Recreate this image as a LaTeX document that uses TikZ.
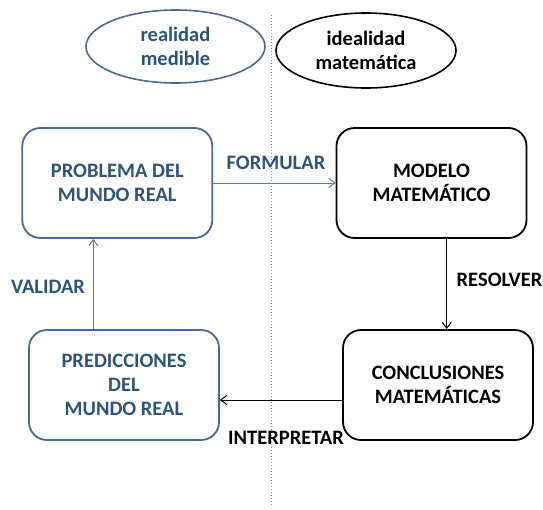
\documentclass[tikz,border=0pt]{standalone}
\usepackage{fontspec}
\setmainfont{Carlito}
\usetikzlibrary{shapes.geometric,arrows.meta}
\definecolor{txtblue}{RGB}{46,84,125}
\definecolor{boxblue}{RGB}{70,108,150}
\definecolor{arrblue}{RGB}{85,128,172}
\definecolor{dotcol}{RGB}{120,142,168}
\begin{document}
\begin{tikzpicture}[x=1pt,y=-1pt,
  txt/.style={font=\fontsize{20.5}{24}\selectfont\bfseries,align=center},
  oval/.style={ellipse,draw,line width=1.6pt,txt,inner sep=0pt},
  realbox/.style={rectangle,rounded corners=18pt,draw=boxblue,line width=1.8pt,text=txtblue,txt,minimum width=190pt,minimum height=110pt,inner sep=0pt},
  mathbox/.style={rectangle,rounded corners=18pt,draw=black,line width=1.8pt,text=black,txt,minimum width=190pt,minimum height=110pt,inner sep=0pt},
  barrow/.style={draw=arrblue,line width=1pt,-{Straight Barb[length=6pt,width=9pt]}},
  karrow/.style={draw=black,line width=1pt,-{Straight Barb[length=6pt,width=9pt]}},
  lbl/.style={txt,inner sep=0pt}]
\useasboundingbox (0,0) rectangle (543,509);
\coordinate (dtop) at (271,15);
\coordinate (dbot) at (271,505);
\draw[dotcol,dotted,line width=1pt] (dtop) -- (dbot);

\node[oval,draw=boxblue,text=txtblue,minimum width=179pt,minimum height=73pt] (real) at (175.5,46.5) {realidad\\medible};
\node[oval,draw=black,text=black,minimum width=180pt,minimum height=75pt] (ideal) at (366,50.5) {idealidad\\matemática};

\node[realbox] (prob) at (117.3,183) {PROBLEMA DEL\\MUNDO REAL};
\node[mathbox] (mod) at (431.5,183) {MODELO\\MATEMÁTICO};
\node[mathbox] (conc) at (438,385) {CONCLUSIONES\\MATEMÁTICAS};
\node[realbox] (pred) at (124,385) {PREDICCIONES\\DEL\\MUNDO REAL};

\coordinate (rx) at (446.7,0);
\coordinate (iy) at (0,400);
\coordinate (vx) at (93.3,0);

\draw[barrow] (prob.east) -- (mod.west);
\draw[karrow] (mod.south -| rx) -- (conc.north -| rx);
\draw[karrow] (conc.west |- iy) -- (pred.east |- iy);
\draw[barrow] (pred.north -| vx) -- (prob.south -| vx);

\node[lbl,text=txtblue] (lf) at (276,163) {FORMULAR};
\node[lbl,text=black] (lr) at (499.5,280) {RESOLVER};
\node[lbl,text=black] (li) at (286,438) {INTERPRETAR};
\node[lbl,text=txtblue] (lv) at (48,287) {VALIDAR};
\end{tikzpicture}
\end{document}
